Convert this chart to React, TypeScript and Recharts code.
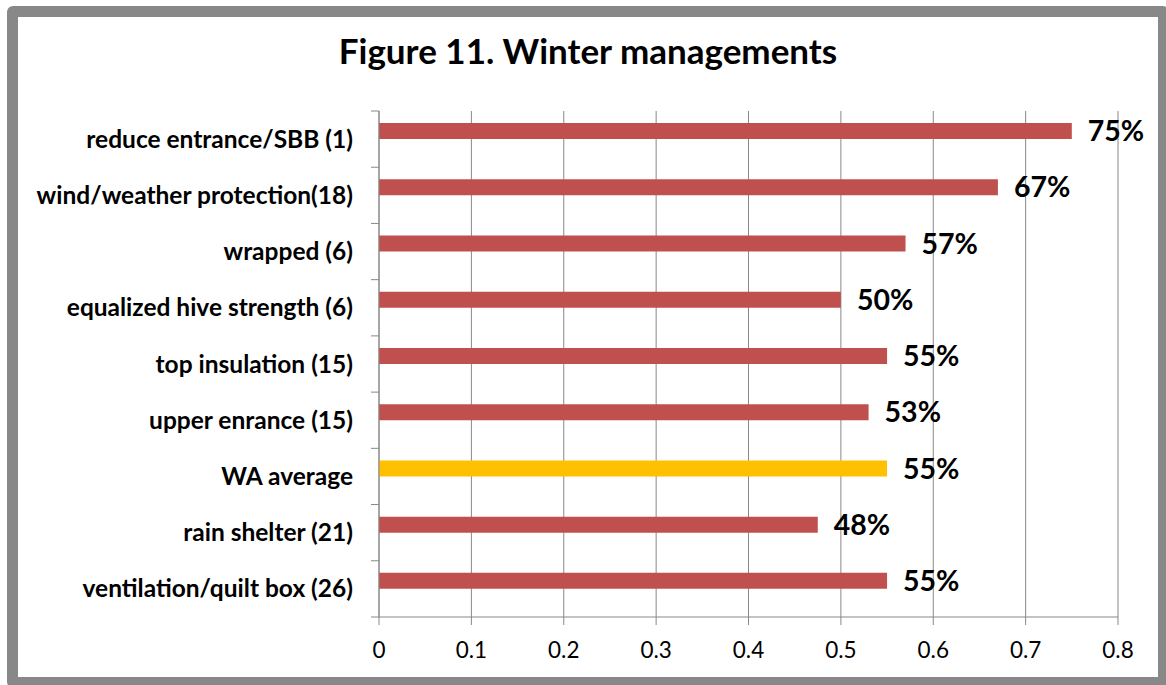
import React from 'react';
import { BarChart, Bar, XAxis, YAxis, CartesianGrid, Cell, LabelList } from 'recharts';

// categories, top to bottom as in the figure
const categories = [
  'reduce entrance/SBB (1)',
  'wind/weather protection(18)',
  'wrapped (6)',
  'equalized hive strength (6)',
  'top insulation (15)',
  'upper enrance (15)',
  'WA average',
  'rain shelter (21)',
  'ventilation/quilt box (26)',
];
const shares = [0.75, 0.67, 0.57, 0.5, 0.55, 0.53, 0.55, 0.475, 0.55];
const shareLabels = ['75%', '67%', '57%', '50%', '55%', '53%', '55%', '48%', '55%'];
const highlighted = 'WA average';
const xTicks = [0, 0.1, 0.2, 0.3, 0.4, 0.5, 0.6, 0.7, 0.8];

const W = 1166;
const H = 685;
const TOP = 111;
const Y_AXIS_W = 379;
const X_AXIS_H = 68;
const BAND = (H - TOP - X_AXIS_H) / categories.length;
const GRID = '#888888';
const FONT = 'Lato, "Open Sans", sans-serif';

const data = categories.map((name, i) => ({
  name,
  share: shares[i],
  label: shareLabels[i],
  empty: null,
}));

const CategoryTick = (props: any) => {
  const { x, y, payload } = props;
  const idx = categories.indexOf(payload.value);
  const top = y - BAND / 2;
  return (
    <g>
      <line x1={Y_AXIS_W - 8} x2={Y_AXIS_W} y1={top} y2={top} stroke={GRID} />
      {idx === categories.length - 1 && (
        <line x1={Y_AXIS_W - 8} x2={Y_AXIS_W} y1={y + BAND / 2} y2={y + BAND / 2} stroke={GRID} />
      )}
      <text x={x} y={y} dy="0.35em" textAnchor="end" fontFamily={FONT} fontWeight={700} fontSize={24.5} fill="#000">
        {payload.value}
      </text>
    </g>
  );
};

const App = () => {
  return (
    <div style={{ position: 'absolute', left: 0, top: 0, width: W, height: H, background: '#fff' }}>
      <div
        style={{
          position: 'absolute', left: 7, top: 6, width: 1162, height: 682,
          boxSizing: 'border-box', border: '11px solid #888888', borderRadius: 6,
        }}
      />
      <div
        style={{
          position: 'absolute', left: 5, top: 33, width: W, textAlign: 'center',
          fontFamily: FONT, fontWeight: 700, fontSize: 35, lineHeight: 1, color: '#000',
        }}
      >
        Figure 11. Winter managements
      </div>
      <div style={{ position: 'absolute', left: 0, top: 0 }}>
        <BarChart
          width={W}
          height={H}
          data={data}
          layout="vertical"
          margin={{ top: TOP, right: 48, bottom: 0, left: 0 }}
          barCategoryGap="21.5%"
          barGap={0}
        >
          <CartesianGrid horizontal={false} stroke={GRID} />
          <XAxis
            type="number"
            domain={[0, 0.8]}
            ticks={xTicks}
            height={X_AXIS_H}
            interval={0}
            tickSize={8}
            tickMargin={17}
            stroke={GRID}
            tick={{ fill: '#000', fontSize: 22.5, fontFamily: FONT }}
          />
          <YAxis
            type="category"
            dataKey="name"
            width={Y_AXIS_W}
            interval={0}
            tickLine={false}
            tickSize={6}
            tickMargin={20}
            stroke={GRID}
            tick={<CategoryTick />}
          />
          <Bar dataKey="share" isAnimationActive={false}>
            {data.map((d) => (
              <Cell key={d.name} fill={d.name === highlighted ? '#FFC000' : '#C0504D'} />
            ))}
            <LabelList
              dataKey="label"
              position="right"
              offset={16}
              fill="#000"
              fontFamily={FONT}
              fontWeight={700}
              fontSize={28.5}
            />
          </Bar>
          <Bar dataKey="empty" isAnimationActive={false} fill="#4F81BD" />
        </BarChart>
      </div>
    </div>
  );
};

export default App;
